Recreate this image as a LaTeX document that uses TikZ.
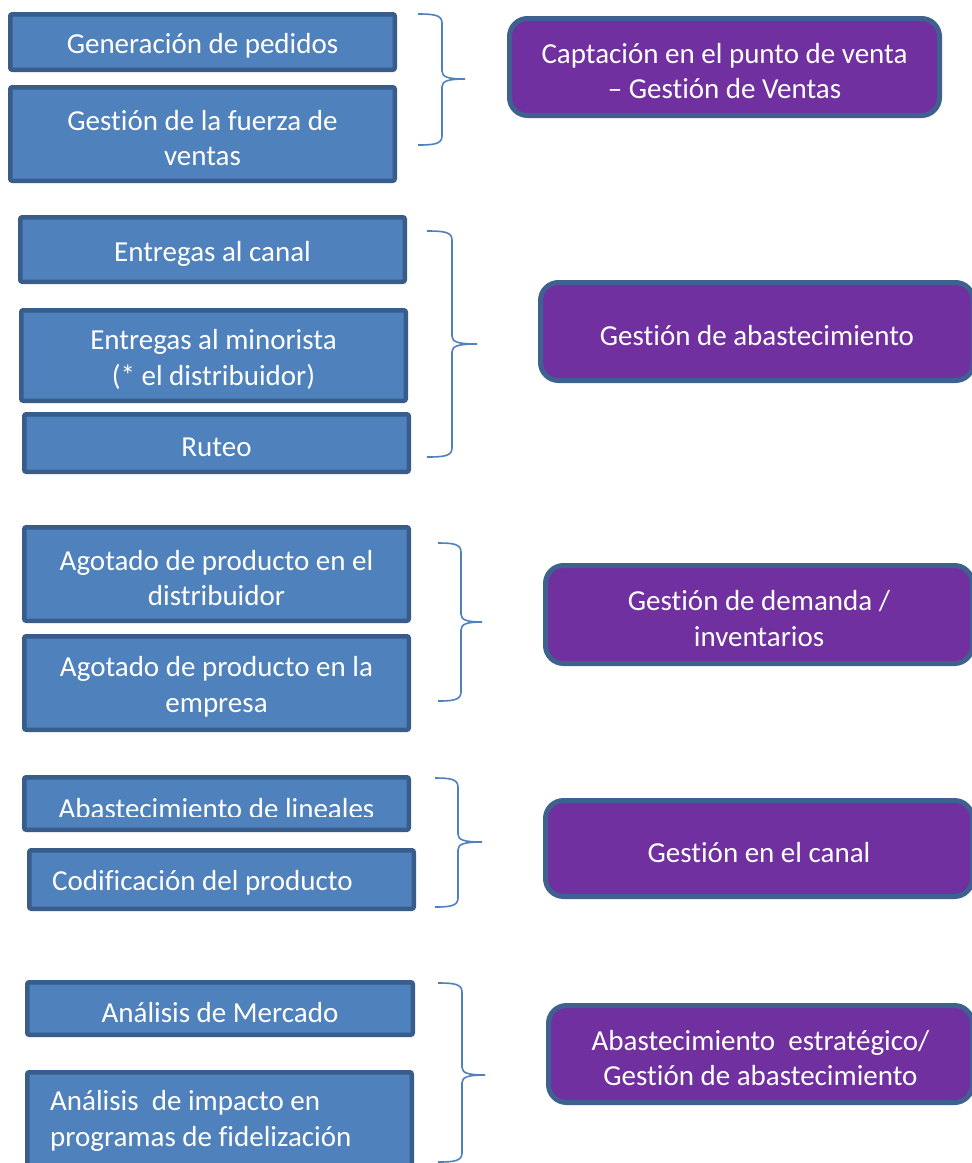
\documentclass[tikz,border=0pt]{standalone}
\usepackage{fontspec}
\setmainfont{Carlito}[Ligatures={NoCommon}]
\definecolor{bfill}{HTML}{4F81BD}
\definecolor{bdraw}{HTML}{385D8A}
\definecolor{pfill}{HTML}{7030A0}
\definecolor{pdraw}{HTML}{3F6190}
\newcommand\myfont{\fontsize{29}{35.5}\selectfont}
\tikzset{
  lbox/.style={draw=bdraw, fill=bfill, line width=4.5pt, rounded corners=2pt, inner sep=0pt},
  rbox/.style={draw=pdraw, fill=pfill, line width=5pt, rounded corners=18pt, inner sep=0pt},
  txt/.style={text=white, font=\myfont, inner sep=0pt, align=center},
  tl/.style={label={[txt, yshift=-4pt]center:{#1}}},
  brc/.style={draw=bfill, line width=1.6pt},
}
\newcommand\mybrace[6]{%
  \draw[brc] (#1,#4) .. controls ({#2-8},#4) and (#2,{#4+1}) .. (#2,{#4+9})
    -- (#2,{#5-8}) .. controls (#2,{#5-2}) and ({#2+6},#5) .. (#3,#5)
    .. controls ({#2+6},#5) and (#2,{#5+2}) .. (#2,{#5+8})
    -- (#2,{#6-9}) .. controls (#2,{#6-1}) and ({#2-8},#6) .. (#1,#6);
  \coordinate (tip#1) at (#3,#5);
}
\begin{document}
\begin{tikzpicture}[x=1pt,y=-1pt]
\useasboundingbox (0,0) rectangle (972,1163);
\fill[white] (0,0) rectangle (972,1163);

% group 1
\node[lbox, minimum width=384.5pt, minimum height=55.5pt, tl={Generación de pedidos}] (b1) at (202.5,42) {};
\node[lbox, minimum width=384.5pt, minimum height=93.5pt, tl={Gestión de la fuerza de\\ventas}] (b2) at (202.5,134) {};
\mybrace{418}{442}{465}{14}{79}{145}
\node[rbox, minimum width=430pt, minimum height=97pt, tl={Captación en el punto de venta\\– Gestión de Ventas}] (r1) at (724.5,67) {};

% group 2
\node[lbox, minimum width=384.5pt, minimum height=64.5pt, tl={Entregas al canal}] (b3) at (212.5,249.5) {};
\node[lbox, minimum width=384.5pt, minimum height=90.5pt, tl={Entregas al minorista\\(* el distribuidor)}] (b4) at (213.5,355.5) {};
\node[lbox, minimum width=384.5pt, minimum height=57.5pt, tl={Ruteo}] (b5) at (216.5,443) {};
\mybrace{427}{452}{477}{231}{344}{457}
\node[rbox, minimum width=433pt, minimum height=98pt, tl={Gestión de abastecimiento}] (r2) at (757,331.5) {};

% group 3
\node[lbox, minimum width=384.5pt, minimum height=93.5pt, tl={Agotado de producto en el\\distribuidor}] (b6) at (216.5,574) {};
\node[lbox, minimum width=384.5pt, minimum height=93.5pt, tl={Agotado de producto en la\\empresa}] (b7) at (216.5,683) {};
\mybrace{438}{461}{482}{543}{622}{701}
\node[rbox, minimum width=427pt, minimum height=98pt, tl={Gestión de demanda /\\inventarios}] (r3) at (759,614.5) {};

% group 4
\node[lbox, minimum width=384.5pt, minimum height=52.5pt] (b8) at (216.5,803.5) {};
\begin{scope}
  \clip (25,778) rectangle (408,816.5);
  \node[txt, anchor=base] (b8t) at (216.5,818) {Abastecimiento de lineales};
\end{scope}
\node[lbox, minimum width=384.5pt, minimum height=58.5pt] (b9) at (221.5,879.5) {};
\node[txt, anchor=west] (b9t) at (52,882.5) {Codificación del producto};
\mybrace{435}{458}{482}{778}{842}{907}
\node[rbox, minimum width=427pt, minimum height=96pt, tl={Gestión en el canal}] (r4) at (759,848.5) {};

% group 5
\node[lbox, minimum width=385.5pt, minimum height=52.5pt, tl={Análisis de Mercado}] (b10) at (220,1008.5) {};
\node[lbox, minimum width=384.5pt, minimum height=95.5pt] (b11) at (219.5,1120) {};
\node[txt, anchor=west, align=left] (b11t) at (50,1121) {Análisis\ \ de impacto en\\programas de fidelización};
\mybrace{438}{462}{485}{983}{1075}{1162}
\node[rbox, minimum width=424pt, minimum height=97pt, tl={Abastecimiento\ \ estratégico/\\Gestión de abastecimiento}] (r5) at (760.5,1054) {};
\end{tikzpicture}
\end{document}
